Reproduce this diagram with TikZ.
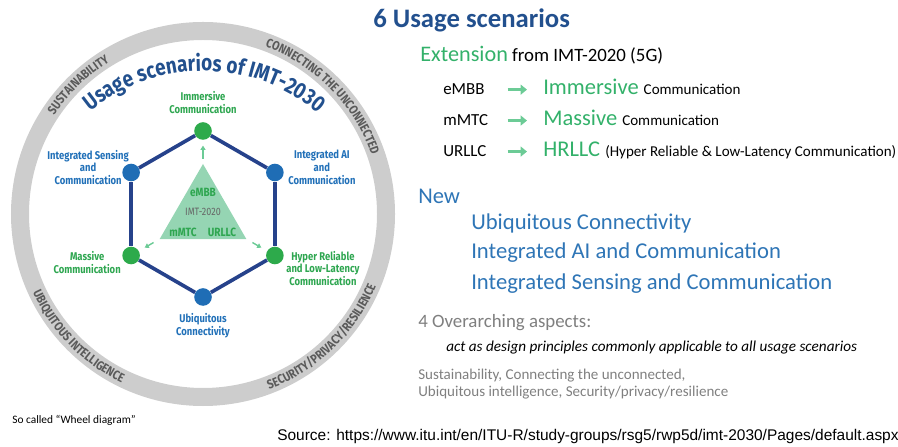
\documentclass[tikz,border=0pt]{standalone}
\usepackage{fontspec}
\setmainfont{Carlito}
\newfontfamily\wheelfont[FakeStretch=0.84]{Fira Sans}
\newfontfamily\srcfont{Liberation Sans}
\usetikzlibrary{calc, arrows.meta, shapes.geometric, decorations.text}

\definecolor{titleblue}{HTML}{22508E}
\definecolor{hexnavy}{HTML}{26428B}
\definecolor{dotblue}{HTML}{1F6DB5}
\definecolor{dotgreen}{HTML}{2DAA4B}
\definecolor{lblblue}{HTML}{2170B8}
\definecolor{lblgreen}{HTML}{2EA650}
\definecolor{mint}{HTML}{95D5B3}
\definecolor{ringgray}{HTML}{CDCDCD}
\definecolor{ringtext}{HTML}{5A5A5A}
\definecolor{extgreen}{HTML}{33B16A}
\definecolor{arrowgreen}{HTML}{6CCB96}
\definecolor{newblue}{HTML}{2E75B6}
\definecolor{aspectgray}{HTML}{7F7F7F}

\tikzset{
	dot/.style={circle, minimum size=0.44cm, inner sep=0pt},
	lbl/.style={align=center, inner sep=0pt, font=\wheelfont\bfseries\fontsize{8}{9.2}\selectfont},
	tri/.style={regular polygon, regular polygon sides=3, minimum size=2.5cm, inner sep=0pt, fill=mint},
	trilbl/.style={inner sep=0pt, font=\wheelfont\bfseries\fontsize{8.5}{9}\selectfont, text=lblgreen},
	hexline/.style={draw=hexnavy, line width=2.6pt},
	ringword/.style={decorate, decoration={text along path, text align=center, text color=ringtext,
		text={|\wheelfont\bfseries\fontsize{9}{9}\selectfont|#1}}},
	tinyarrow/.style={draw=arrowgreen, line width=1pt, -{Triangle[length=3pt, width=3.5pt]}},
	fatarrow/.style={draw=arrowgreen, line width=2.2pt, shorten >=0.4cm, -{Triangle[length=4.5pt, width=7pt]}},
	txt/.style={anchor=base west, inner sep=0pt},
	key/.style={txt, text width=1.6cm, font=\fontsize{12}{14}\selectfont}
}

\begin{document}
\begin{tikzpicture}[x=0.025cm, y=0.025cm]
	\useasboundingbox (0,0) rectangle (898,446);
	\coordinate (c) at (203,232);
	\coordinate (t) at (203,197);

	\draw[ringgray, line width=0.45cm] (c) circle[radius=183];
	\path[ringword=SUSTAINABILITY] ($(c)+(164:178.6)$) arc[start angle=164, end angle=104, radius=178.6];
	\path[ringword=CONNECTING THE UNCONNECTED] ($(c)+(85:178.6)$) arc[start angle=85, end angle=4, radius=178.6];
	\path[ringword=UBIQUITOUS INTELLIGENCE] ($(c)+(190:187.4)$) arc[start angle=190, end angle=259, radius=187.4];
	\path[ringword=SECURITY/PRIVACY/RESILIENCE] ($(c)+(279:187.4)$) arc[start angle=279, end angle=349, radius=187.4];

	\path[decorate, decoration={text along path, text align=center, text color=titleblue,
		text={|\wheelfont\bfseries\fontsize{16}{16}\selectfont|Usage scenarios of IMT-2030}}]
		($(t)+(140:178)$) arc[start angle=140, end angle=39, radius=178];

	\node[tri] (tri) at (c) {};
	\node[trilbl] (embb) at ($(tri)+(0,22)$) {eMBB};
	\node[inner sep=0pt, font=\wheelfont\fontsize{7.6}{8}\selectfont, text=black!60] (imt) at ($(tri)+(0,2)$) {IMT-2020};
	\node[trilbl] (mmtc) at ($(tri)+(-20,-18)$) {mMTC};
	\node[trilbl] (urllc) at ($(tri)+(19,-18)$) {URLLC};

	\node[dot, fill=dotgreen] (imm) at ($(c)+(90:83)$) {};
	\node[dot, fill=dotblue] (iai) at ($(c)+(30:83)$) {};
	\node[dot, fill=dotgreen] (hrl) at ($(c)+(-30:83)$) {};
	\node[dot, fill=dotblue] (ubi) at ($(c)+(-90:83)$) {};
	\node[dot, fill=dotgreen] (mas) at ($(c)+(210:83)$) {};
	\node[dot, fill=dotblue] (isc) at ($(c)+(150:83)$) {};

	\draw[hexline] (imm) -- (iai);
	\draw[hexline] (iai) -- (hrl);
	\draw[hexline] (hrl) -- (ubi);
	\draw[hexline] (ubi) -- (mas);
	\draw[hexline] (mas) -- (isc);
	\draw[hexline] (isc) -- (imm);

	\draw[tinyarrow] ($(tri.corner 1)!0.15!(imm)$) -- ($(tri.corner 1)!0.55!(imm)$);
	\draw[tinyarrow] ($(tri.corner 2)!0.2!(mas)$) -- ($(tri.corner 2)!0.52!(mas)$);
	\draw[tinyarrow] ($(tri.corner 3)!0.2!(hrl)$) -- ($(tri.corner 3)!0.52!(hrl)$);

	\node[lbl, text=lblgreen] (immlbl) at ($(imm)+(0,28)$) {Immersive\\Communication};
	\node[lbl, text=lblblue] (isclbl) at ($(isc)+(-43,5)$) {Integrated Sensing\\and\\Communication};
	\node[lbl, text=lblblue] (iailbl) at ($(iai)+(47,5)$) {Integrated AI\\and\\Communication};
	\node[lbl, text=lblgreen] (maslbl) at ($(mas)+(-44,-7)$) {Massive\\Communication};
	\node[lbl, text=lblgreen] (hrllbl) at ($(hrl)+(48,-13)$) {Hyper Reliable\\and Low-Latency\\Communication};
	\node[lbl, text=lblblue] (ubilbl) at ($(ubi)+(0,-29)$) {Ubiquitous\\Connectivity};

	\node[txt, font=\fontsize{8.1}{9}\selectfont] (wheel) at (12,22) {So called \textquotedblleft Wheel diagram\textquotedblright};

	\node[txt, text=titleblue, font=\bfseries\fontsize{19}{19}\selectfont] (head) at (373,418) {6 Usage scenarios};
	\node[txt, font=\fontsize{13.4}{15}\selectfont] (ext) at (420,384) {\textcolor{extgreen}{\fontsize{15.8}{16}\selectfont Extension} from IMT-2020 (5G)};

	\node[key] (kembb) at (443,351) {eMBB};
	\node[key] (kmmtc) at (443,320) {mMTC};
	\node[key] (kurllc) at (443,289) {URLLC};
	\node[txt, text=extgreen, font=\fontsize{16}{16}\selectfont] (vimm) at (543,351) {Immersive {\color{black}\fontsize{10.7}{12}\selectfont Communication}};
	\node[txt, text=extgreen, font=\fontsize{16}{16}\selectfont] (vmas) at (543,320) {Massive {\color{black}\fontsize{10.7}{12}\selectfont Communication}};
	\node[txt, text=extgreen, font=\fontsize{16}{16}\selectfont] (vhrl) at (543,289) {HRLLC {\color{black}\fontsize{10.7}{12}\selectfont (Hyper Reliable \& Low-Latency Communication)}};
	\draw[fatarrow] (kembb.east) -- (kembb.east -| vimm.west);
	\draw[fatarrow] (kmmtc.east) -- (kmmtc.east -| vmas.west);
	\draw[fatarrow] (kurllc.east) -- (kurllc.east -| vhrl.west);

	\node[txt, text=newblue, font=\fontsize{16}{16}\selectfont] (new) at (418,242) {New};
	\node[txt, text=newblue, font=\fontsize{16.1}{16}\selectfont] (nubi) at (471,216) {Ubiquitous Connectivity};
	\node[txt, text=newblue, font=\fontsize{16.1}{16}\selectfont] (niai) at (471,187) {Integrated AI and Communication};
	\node[txt, text=newblue, font=\fontsize{16.1}{16}\selectfont] (nisc) at (471,156) {Integrated Sensing and Communication};

	\node[txt, text=aspectgray, font=\fontsize{13.4}{15}\selectfont] (asp) at (418,118) {4 Overarching aspects:};
	\node[txt, font=\itshape\fontsize{10.8}{12}\selectfont] (design) at (446,94) {act as design principles commonly applicable to all usage scenarios};
	\node[txt, text=aspectgray, font=\fontsize{10.7}{12}\selectfont] (asp1) at (418,66) {Sustainability, Connecting the unconnected,};
	\node[txt, text=aspectgray, font=\fontsize{10.7}{12}\selectfont] (asp2) at (418,49) {Ubiquitous intelligence, Security/privacy/resilience};

	\node[txt, font=\srcfont\fontsize{11}{12}\selectfont] (src) at (277,6) {Source: https://www.itu.int/en/ITU-R/study-groups/rsg5/rwp5d/imt-2030/Pages/default.aspx};
\end{tikzpicture}
\end{document}
